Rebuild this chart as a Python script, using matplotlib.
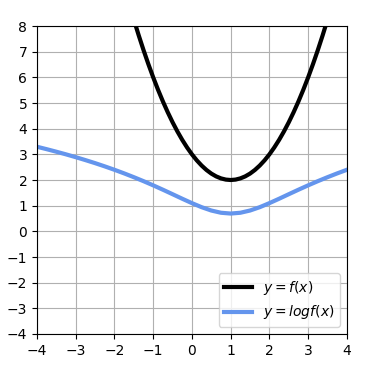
import matplotlib
matplotlib.use("Agg")
import matplotlib.pyplot as plt

x_f = [-1.5, -1.375, -1.25, -1.125, -1.0, -0.875, -0.75, -0.625, -0.5, -0.375, -0.25, -0.125,
       0.0, 0.125, 0.25, 0.375, 0.5, 0.625, 0.75, 0.875, 1.0, 1.125, 1.25, 1.375,
       1.5, 1.625, 1.75, 1.875, 2.0, 2.125, 2.25, 2.375, 2.5, 2.625, 2.75, 2.875,
       3.0, 3.125, 3.25, 3.375, 3.5]
y_f = [8.25, 7.641, 7.063, 6.516, 6.0, 5.516, 5.063, 4.641, 4.25, 3.891, 3.563, 3.266,
       3.0, 2.766, 2.563, 2.391, 2.25, 2.141, 2.063, 2.016, 2.0, 2.016, 2.063, 2.141,
       2.25, 2.391, 2.563, 2.766, 3.0, 3.266, 3.563, 3.891, 4.25, 4.641, 5.063, 5.516,
       6.0, 6.516, 7.063, 7.641, 8.25]
x_logf = [-4.0, -3.75, -3.5, -3.25, -3.0, -2.75, -2.5, -2.25, -2.0, -1.75, -1.5, -1.25,
          -1.0, -0.75, -0.5, -0.25, 0.0, 0.25, 0.5, 0.75, 1.0, 1.25, 1.5, 1.75,
          2.0, 2.25, 2.5, 2.75, 3.0, 3.25, 3.5, 3.75, 4.0]
y_logf = [3.296, 3.201, 3.102, 2.999, 2.890, 2.776, 2.657, 2.531, 2.398, 2.258, 2.110, 1.955,
          1.792, 1.622, 1.447, 1.270, 1.099, 0.941, 0.811, 0.724, 0.693, 0.724, 0.811, 0.941,
          1.099, 1.270, 1.447, 1.622, 1.792, 1.955, 2.110, 2.258, 2.398]
labels = ["$y = f(x)$", "$y = log f(x)$"]

fig = plt.figure(figsize=(3.71, 3.68), dpi=100)
ax = fig.add_axes([0.0997, 0.0924, 0.8353, 0.8369])
ax.plot(x_f, y_f, color="black", linewidth=3, label=labels[0], solid_joinstyle="round")
ax.plot(x_logf, y_logf, color="cornflowerblue", linewidth=3, label=labels[1],
        solid_joinstyle="round")
ax.set_xlim(-4, 4)
ax.set_ylim(-4, 8)
ax.set_xticks(range(-4, 5))
ax.set_yticks(range(-4, 9))
ax.grid(True)
ax.legend(loc="lower right")
fig.savefig("out.png", dpi=100)
